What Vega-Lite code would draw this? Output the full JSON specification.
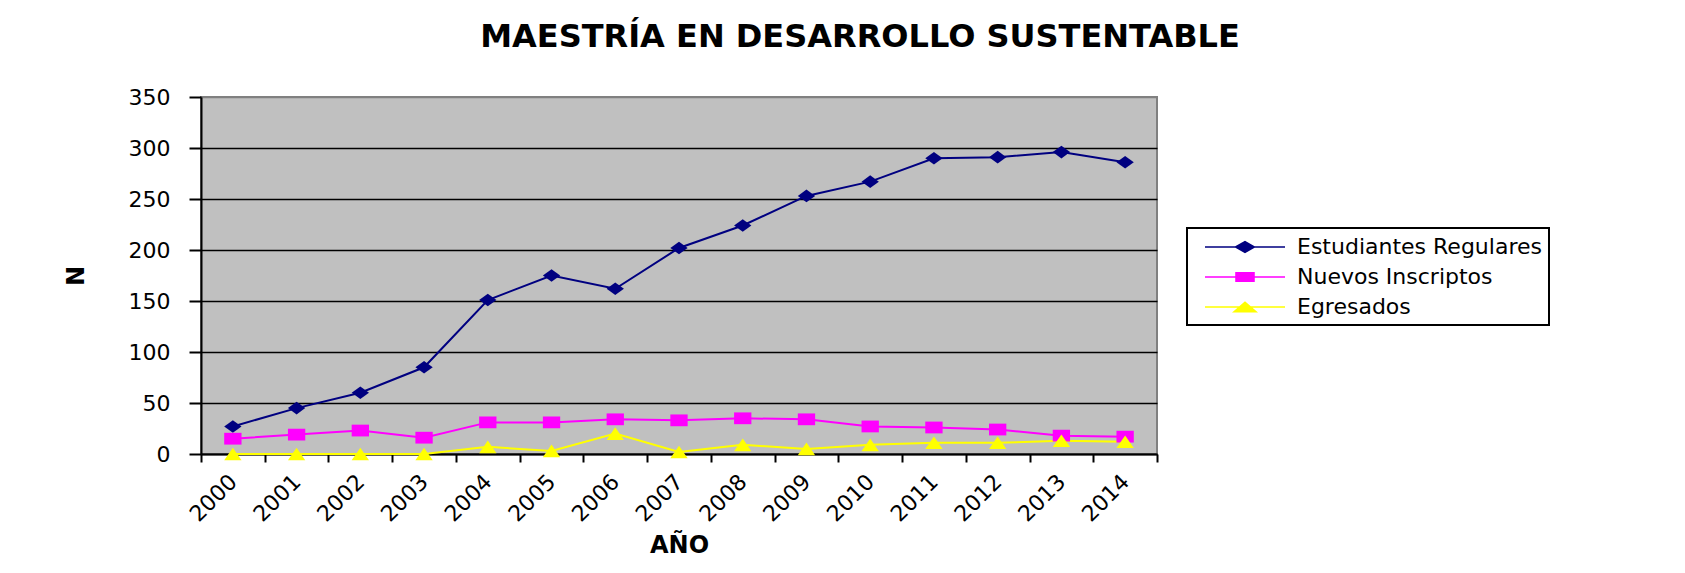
{
  "$schema": "https://vega.github.io/schema/vega-lite/v6.json",
  "width": 956,
  "height": 357,
  "autosize": {"type": "none"},
  "padding": {"left": 201, "top": 97, "right": 528, "bottom": 119},
  "background": "white",
  "title": {
    "text": "MAESTRÍA EN DESARROLLO SUSTENTABLE",
    "anchor": "middle",
    "frame": "group",
    "dx": 181,
    "offset": 0,
    "baseline": "bottom",
    "font": "DejaVu Sans",
    "fontWeight": "bold",
    "fontSize": 32,
    "color": "black"
  },
  "config": {
    "view": {"fill": "#C0C0C0", "stroke": "#808080", "strokeWidth": 2},
    "axis": {
      "labelFont": "DejaVu Sans",
      "labelFontSize": 22,
      "labelColor": "black",
      "titleFont": "DejaVu Sans",
      "titleFontWeight": "bold",
      "titleFontSize": 24,
      "titleColor": "black",
      "domainColor": "black",
      "domainWidth": 2,
      "tickColor": "black",
      "tickWidth": 2
    }
  },
  "data": {
    "values": [
      {"year": "2000", "serie": "Estudiantes Regulares", "n": 27},
      {"year": "2001", "serie": "Estudiantes Regulares", "n": 45},
      {"year": "2002", "serie": "Estudiantes Regulares", "n": 60},
      {"year": "2003", "serie": "Estudiantes Regulares", "n": 85},
      {"year": "2004", "serie": "Estudiantes Regulares", "n": 151},
      {"year": "2005", "serie": "Estudiantes Regulares", "n": 175},
      {"year": "2006", "serie": "Estudiantes Regulares", "n": 162},
      {"year": "2007", "serie": "Estudiantes Regulares", "n": 202},
      {"year": "2008", "serie": "Estudiantes Regulares", "n": 224},
      {"year": "2009", "serie": "Estudiantes Regulares", "n": 253},
      {"year": "2010", "serie": "Estudiantes Regulares", "n": 267},
      {"year": "2011", "serie": "Estudiantes Regulares", "n": 290},
      {"year": "2012", "serie": "Estudiantes Regulares", "n": 291},
      {"year": "2013", "serie": "Estudiantes Regulares", "n": 296},
      {"year": "2014", "serie": "Estudiantes Regulares", "n": 286},
      {"year": "2000", "serie": "Nuevos Inscriptos", "n": 15},
      {"year": "2001", "serie": "Nuevos Inscriptos", "n": 19},
      {"year": "2002", "serie": "Nuevos Inscriptos", "n": 23},
      {"year": "2003", "serie": "Nuevos Inscriptos", "n": 16},
      {"year": "2004", "serie": "Nuevos Inscriptos", "n": 31},
      {"year": "2005", "serie": "Nuevos Inscriptos", "n": 31},
      {"year": "2006", "serie": "Nuevos Inscriptos", "n": 34},
      {"year": "2007", "serie": "Nuevos Inscriptos", "n": 33},
      {"year": "2008", "serie": "Nuevos Inscriptos", "n": 35},
      {"year": "2009", "serie": "Nuevos Inscriptos", "n": 34},
      {"year": "2010", "serie": "Nuevos Inscriptos", "n": 27},
      {"year": "2011", "serie": "Nuevos Inscriptos", "n": 26},
      {"year": "2012", "serie": "Nuevos Inscriptos", "n": 24},
      {"year": "2013", "serie": "Nuevos Inscriptos", "n": 18},
      {"year": "2014", "serie": "Nuevos Inscriptos", "n": 17},
      {"year": "2000", "serie": "Egresados", "n": 0},
      {"year": "2001", "serie": "Egresados", "n": 0},
      {"year": "2002", "serie": "Egresados", "n": 0},
      {"year": "2003", "serie": "Egresados", "n": 0},
      {"year": "2004", "serie": "Egresados", "n": 7},
      {"year": "2005", "serie": "Egresados", "n": 3},
      {"year": "2006", "serie": "Egresados", "n": 20},
      {"year": "2007", "serie": "Egresados", "n": 2},
      {"year": "2008", "serie": "Egresados", "n": 9},
      {"year": "2009", "serie": "Egresados", "n": 5},
      {"year": "2010", "serie": "Egresados", "n": 9},
      {"year": "2011", "serie": "Egresados", "n": 11},
      {"year": "2012", "serie": "Egresados", "n": 11},
      {"year": "2013", "serie": "Egresados", "n": 13},
      {"year": "2014", "serie": "Egresados", "n": 12}
    ]
  },
  "encoding": {
    "x": {
      "field": "year",
      "type": "ordinal",
      "bandPosition": 0.5,
      "scale": {"type": "band", "paddingInner": 0, "paddingOuter": 0},
      "axis": {
        "title": "AÑO",
        "tickBand": "extent",
        "tickSize": 8,
        "labelAngle": -45,
        "labelAlign": "right",
        "labelBaseline": "middle",
        "labelPadding": 16,
        "titlePadding": 8,
        "grid": false
      }
    },
    "y": {
      "field": "n",
      "type": "quantitative",
      "scale": {"domain": [0, 350], "nice": false, "zero": true},
      "axis": {
        "title": "N",
        "values": [0, 50, 100, 150, 200, 250, 300, 350],
        "tickSize": 12,
        "labelPadding": 19,
        "titlePadding": 40,
        "grid": true,
        "gridColor": {"condition": {"test": "datum.value === 350", "value": "#808080"}, "value": "black"},
        "gridWidth": 1.5
      }
    },
    "color": {
      "field": "serie",
      "type": "nominal",
      "sort": ["Estudiantes Regulares", "Nuevos Inscriptos", "Egresados"],
      "scale": {
        "domain": ["Estudiantes Regulares", "Nuevos Inscriptos", "Egresados"],
        "range": ["#000080", "#FF00FF", "#FFFF00"]
      },
      "legend": {
        "title": null,
        "orient": "none",
        "legendX": 986,
        "legendY": 131,
        "strokeColor": "black",
        "fillColor": "white",
        "padding": 7,
        "symbolOffset": 39,
        "symbolSize": 484,
        "symbolStrokeWidth": 1.5,
        "labelOffset": 40,
        "labelFont": "DejaVu Sans",
        "labelFontSize": 22,
        "labelColor": "black",
        "labelLimit": 600,
        "rowPadding": 7,
        "encode": {
          "legend": {"update": {"strokeWidth": {"value": 2}}},
          "symbols": {
            "update": {
              "shape": {"signal": "datum.value === 'Estudiantes Regulares' ? 'M-3.64,0L3.64,0M-0.86,0L0,-0.5L0.86,0L0,0.5Z' : datum.value === 'Nuevos Inscriptos' ? 'M-3.64,0L3.64,0M-0.82,-0.39L0.82,-0.39L0.82,0.39L-0.82,0.39Z' : 'M-3.64,0L3.64,0M-1,0.43L0,-0.43L1,0.43Z'"},
              "fill": {"scale": "color", "field": "value"},
              "stroke": {"scale": "color", "field": "value"},
              "strokeWidth": {"value": 1.5},
              "size": {"value": 484},
              "opacity": {"value": 1}
            }
          }
        }
      }
    }
  },
  "layer": [
    {
      "mark": {"type": "line", "strokeWidth": 2}
    },
    {
      "transform": [{"filter": "datum.serie === 'Estudiantes Regulares'"}],
      "mark": {"type": "point", "filled": true, "opacity": 1, "size": 300, "shape": "M-1,0L0,-0.73L1,0L0,0.73Z"}
    },
    {
      "transform": [{"filter": "datum.serie === 'Nuevos Inscriptos'"}],
      "mark": {"type": "point", "filled": true, "opacity": 1, "size": 300, "shape": "M-1,-0.68L1,-0.68L1,0.68L-1,0.68Z"}
    },
    {
      "transform": [{"filter": "datum.serie === 'Egresados'"}],
      "mark": {"type": "point", "filled": true, "opacity": 1, "size": 300, "shape": "M-1,0.73L0,-0.73L1,0.73Z"}
    }
  ]
}
